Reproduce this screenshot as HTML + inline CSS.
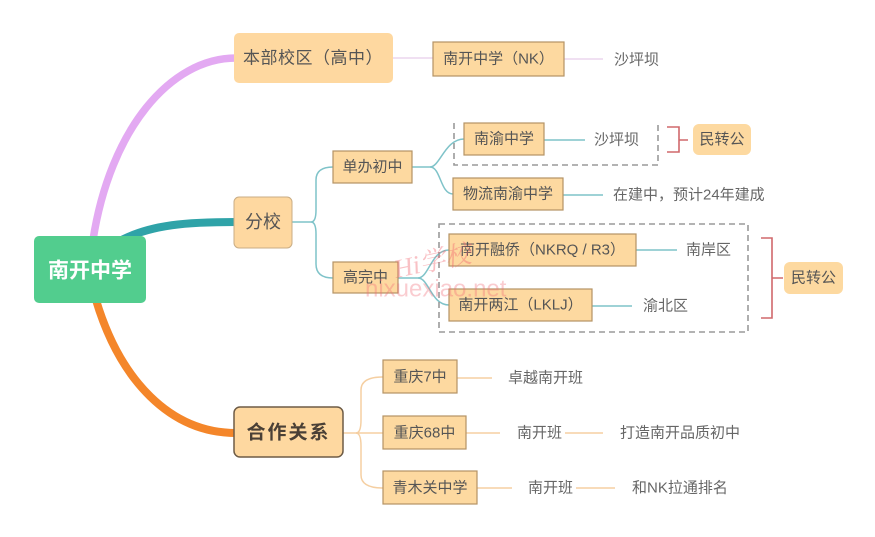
<!DOCTYPE html>
<html><head><meta charset="utf-8"><style>
html,body{margin:0;padding:0;background:#fff;width:875px;height:537px;overflow:hidden}
svg{display:block}
text{font-family:"Liberation Sans","Noto Sans CJK SC",sans-serif;dominant-baseline:central}
.n{fill:#555;text-anchor:middle;font-size:15px}
.l{fill:#666;font-size:15px}
.box{fill:#fdd9a0;stroke:#b49265;stroke-width:1.2}
</style></head><body>
<svg width="875" height="537" viewBox="0 0 875 537" xmlns="http://www.w3.org/2000/svg">
<!-- main curves -->
<path d="M93 240 C110 130,170 58,236 58" fill="none" stroke="#e3a9f2" stroke-width="7.5"/>
<path d="M118 242 C150 224,190 222,236 222" fill="none" stroke="#2fa3a8" stroke-width="8"/>
<path d="M96 300 C120 380,170 433,236 433" fill="none" stroke="#f4862a" stroke-width="8"/>

<!-- 本部 branch -->
<path d="M393 58 H433 M564 59 H603" stroke="#ecd6ee" stroke-width="1.5" fill="none"/>

<!-- 分校 branches -->
<g fill="none" stroke="#7fc3c9" stroke-width="1.5">
<path d="M292 222 H311 Q316 222 316 210 L316 180 Q316 167 333 167"/>
<path d="M311 222 Q316 222 316 234 L316 264 Q316 278 333 278"/>
<path d="M412 167 H430 C440 167,445 139,464 139"/>
<path d="M430 167 C441 167,440 194,453 194"/>
<path d="M544 140 H585 M563 195 H603"/>
<path d="M398 278 H418 C429 278,431 250,449 250"/>
<path d="M418 278 C429 278,431 305,449 305"/>
<path d="M636 250 H677 M592 306 H632"/>
</g>

<!-- 合作 branches -->
<g fill="none" stroke="#f5cfa2" stroke-width="1.5">
<path d="M343 433 H383"/>
<path d="M356 433 Q361 433 361 420 L361 390 Q361 377 383 377"/>
<path d="M356 433 Q361 433 361 446 L361 475 Q361 488 383 488"/>
<path d="M457 378 H492 M466 433 H500 M565 433 H603 M477 488 H512 M576 488 H615"/>
</g>

<!-- dashed boxes -->
<path d="M454 123 V165 H658 V123" fill="none" stroke="#9a9a9a" stroke-width="1.6" stroke-dasharray="6,4"/>
<rect x="439" y="224" width="309" height="108" fill="none" stroke="#9a9a9a" stroke-width="1.6" stroke-dasharray="6,4"/>

<!-- brackets -->
<path d="M667 127 H679 V152 H667 M679 140 H688" fill="none" stroke="#d0686c" stroke-width="1.6"/>
<path d="M761 238 H772 V318 H761 M772 278 H783" fill="none" stroke="#d0686c" stroke-width="1.6"/>

<!-- root -->
<rect x="34" y="236" width="112" height="67" rx="5" fill="#52cd8e"/>
<text x="90" y="271" text-anchor="middle" fill="#fff" font-size="21" font-weight="bold">南开中学</text>

<!-- level 1 -->
<rect x="234" y="33" width="159" height="50" rx="5" fill="#fed8a0"/>
<text class="n" x="313" y="58" style="font-size:17px" letter-spacing="0.5">本部校区（高中）</text>
<rect x="234" y="197" width="58" height="51" rx="5" fill="#fed8a0" stroke="#c9ad85" stroke-width="1"/>
<text class="n" x="263" y="222" style="font-size:18px">分校</text>
<rect x="234" y="407" width="109" height="50" rx="6" fill="#fed8a0" stroke="#6e5c46" stroke-width="1.5"/>
<text class="n" x="288.5" y="433" style="font-size:19px;font-weight:bold;letter-spacing:2px;fill:#4a4036">合作关系</text>

<!-- nodes -->
<rect class="box" x="433" y="42" width="131" height="34"/>
<text class="n" x="498.5" y="59">南开中学（NK）</text>
<text class="l" x="614" y="60">沙坪坝</text>

<rect class="box" x="333" y="151" width="79" height="32"/>
<text class="n" x="372.5" y="167">单办初中</text>
<rect class="box" x="333" y="262" width="65" height="31"/>
<text class="n" x="365.5" y="277.5">高完中</text>

<rect class="box" x="464" y="123" width="80" height="32"/>
<text class="n" x="504" y="139">南渝中学</text>
<text class="l" x="594" y="140">沙坪坝</text>
<rect x="693" y="124" width="58" height="31" rx="6" fill="#fdd9a0"/>
<text class="n" x="722" y="139.5">民转公</text>

<rect class="box" x="453" y="178" width="110" height="32"/>
<text class="n" x="508" y="194">物流南渝中学</text>
<text class="l" x="613" y="195">在建中，预计24年建成</text>

<rect class="box" x="449" y="234" width="187" height="32"/>
<text class="n" x="542.5" y="250">南开融侨（NKRQ / R3）</text>
<text class="l" x="686" y="250">南岸区</text>
<rect class="box" x="449" y="289" width="143" height="32"/>
<text class="n" x="520.5" y="305">南开两江（LKLJ）</text>
<text class="l" x="643" y="306">渝北区</text>
<rect x="784" y="262" width="59" height="32" rx="6" fill="#fdd9a0"/>
<text class="n" x="813.5" y="278">民转公</text>

<rect class="box" x="383" y="360" width="74" height="33"/>
<text class="n" x="420" y="377">重庆7中</text>
<text class="l" x="508" y="378">卓越南开班</text>
<rect class="box" x="383" y="416" width="83" height="33"/>
<text class="n" x="424.5" y="433">重庆68中</text>
<text class="l" x="517" y="433">南开班</text>
<text class="l" x="620" y="433">打造南开品质初中</text>
<rect class="box" x="383" y="471" width="94" height="33"/>
<text class="n" x="430" y="488">青木关中学</text>
<text class="l" x="528" y="488">南开班</text>
<text class="l" x="632" y="488">和NK拉通排名</text>

<!-- watermark -->
<text x="393" y="262" transform="rotate(-12 430 260)" font-size="26" font-style="italic" fill="rgba(240,100,110,0.4)" style="font-family:'Liberation Serif','Noto Serif CJK SC',serif">Hi学校</text>
<text x="365" y="289" font-size="24" fill="rgba(240,110,120,0.35)">nixuexiao.net</text>
</svg>
</body></html>
